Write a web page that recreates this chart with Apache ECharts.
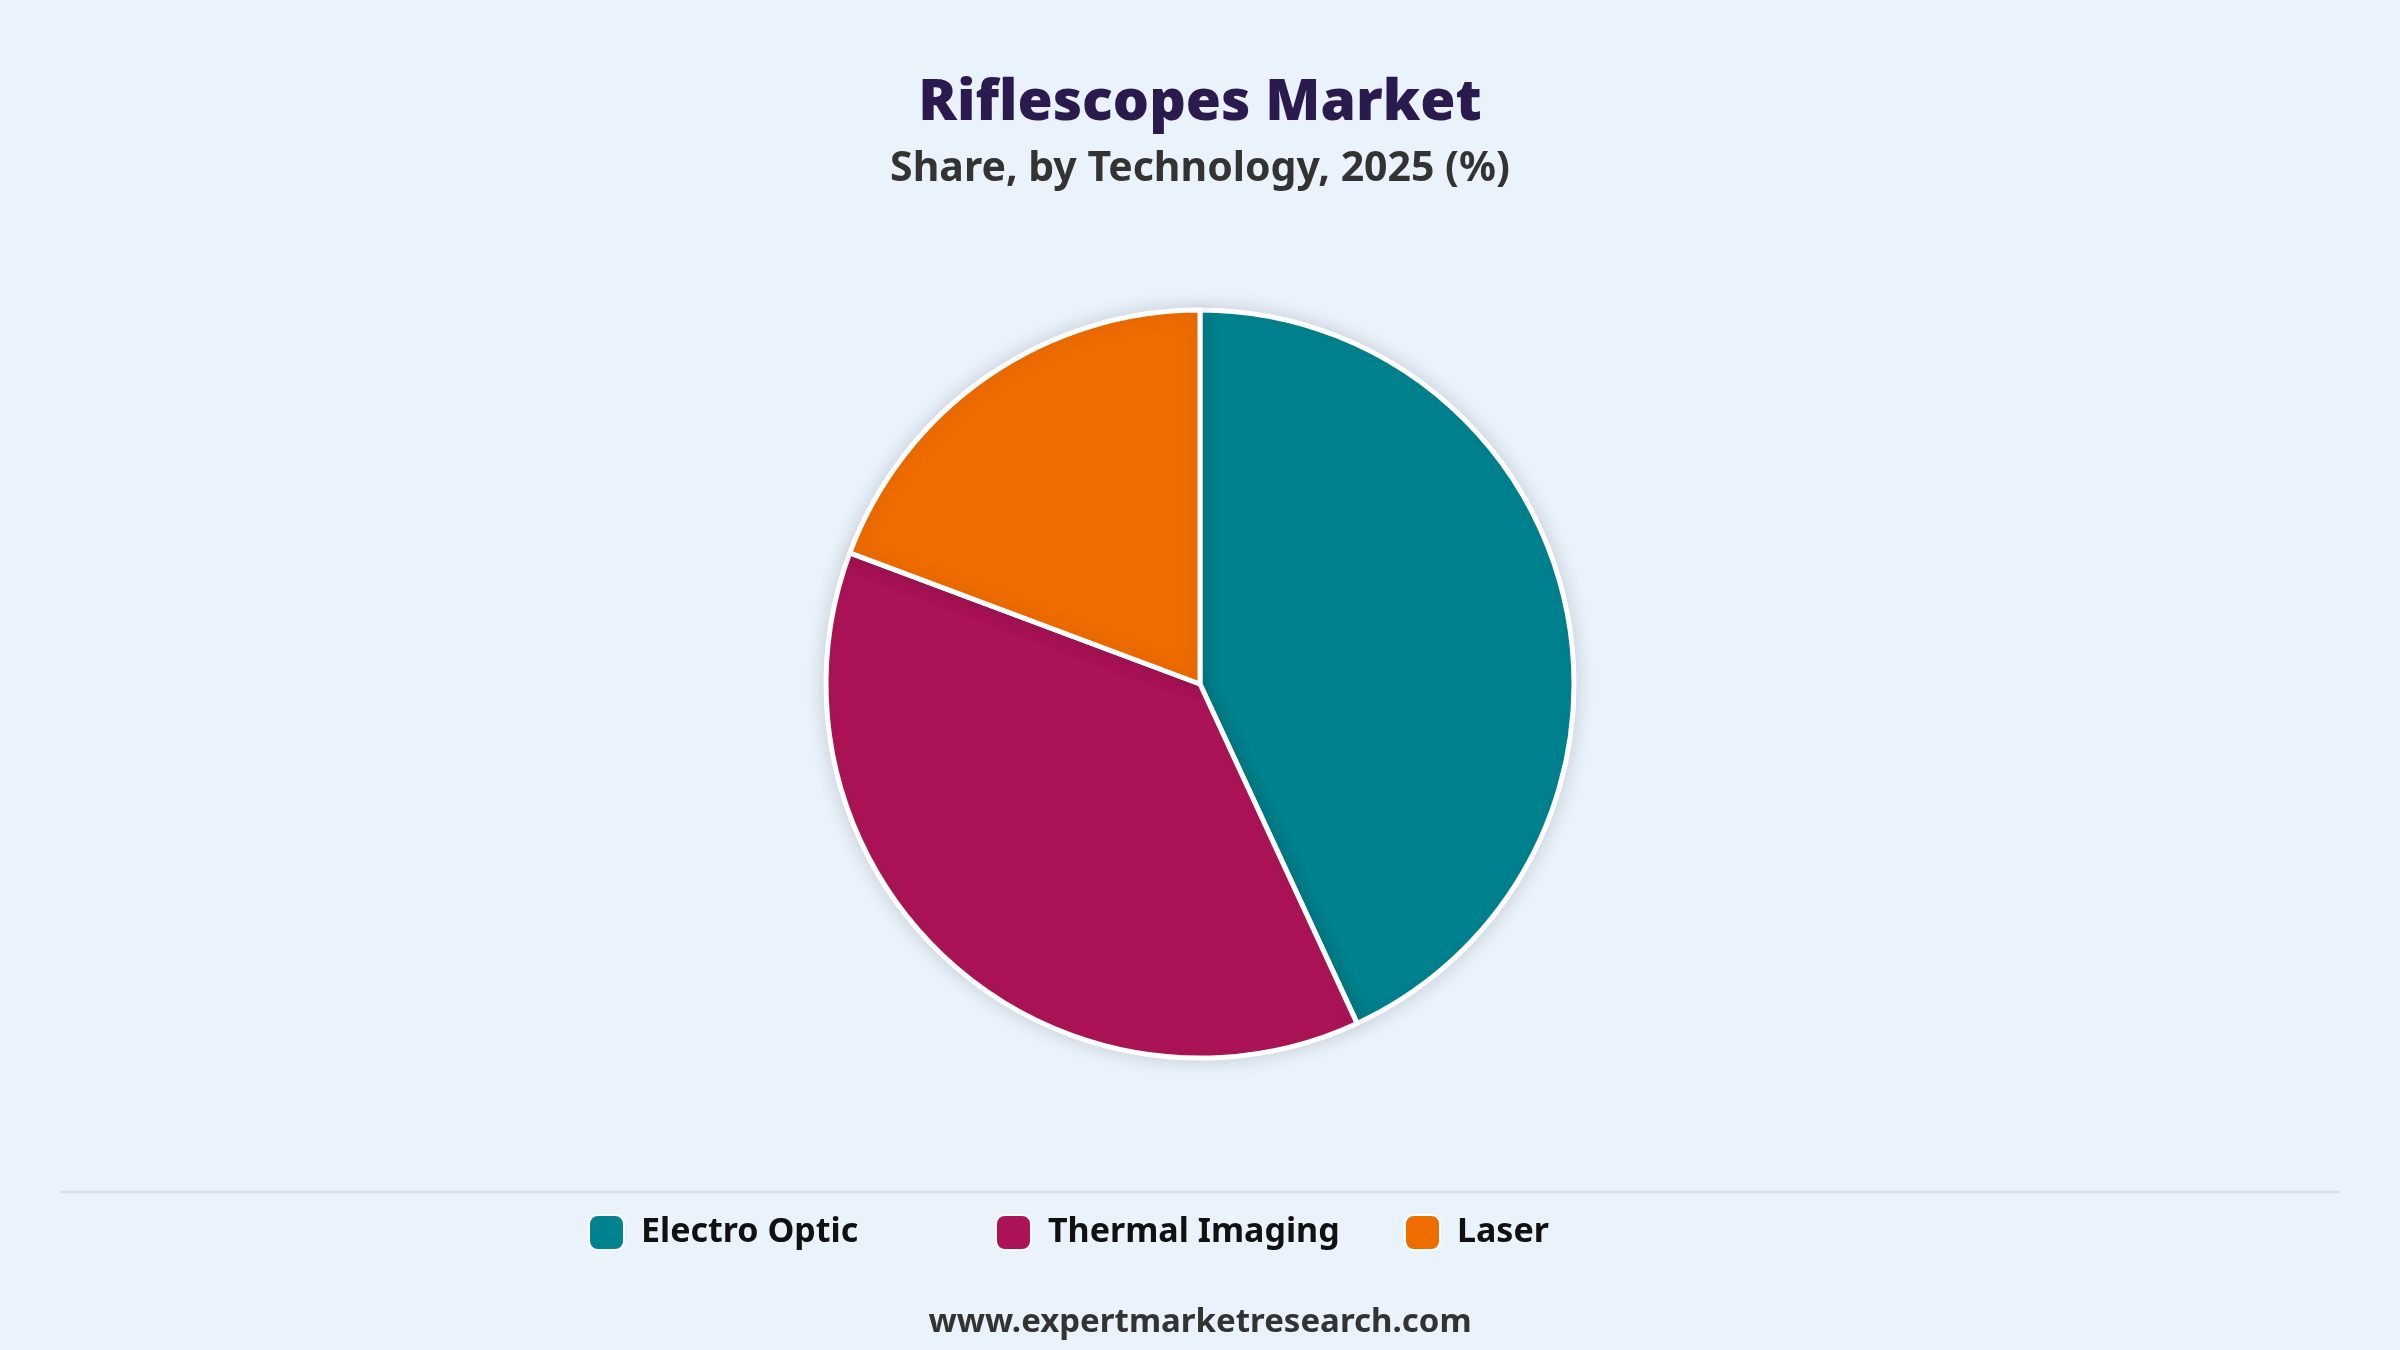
<!DOCTYPE html>
<html>
<head>
<meta charset="utf-8">
<title>Riflescopes Market</title>
<script src="https://cdn.jsdelivr.net/npm/echarts@6/dist/echarts.min.js"></script>
<style>
  html, body { margin: 0; padding: 0; background: #eaf2fc; }
  #chart { width: 2400px; height: 1350px; }
</style>
</head>
<body>
<div id="chart"></div>
<script>
// data
var categories = ['Electro Optic', 'Thermal Imaging', 'Laser'];
var shares = [43.1, 37.6, 19.3];
var colors = ['#00838f', '#ad1457', '#ef6c00'];
// left edge of each legend item (the original spaces them evenly)
var legendLefts = [583, 990, 1399];

var chart = echarts.init(document.getElementById('chart'));

var pieData = categories.map(function (name, i) {
    return { name: name, value: shares[i], itemStyle: { color: colors[i] } };
});

// one legend per item so the spacing stays fixed
var legends = categories.map(function (name, i) {
    return {
        data: [name],
        left: legendLefts[i],
        top: 1209,
        icon: 'roundRect',
        itemWidth: 35,
        itemHeight: 35,
        selectedMode: false,
        textStyle: {
            fontFamily: 'Noto Sans',
            fontSize: 34,
            fontWeight: 'bold',
            color: '#111111',
            padding: [0, 0, 0, 12]
        }
    };
});

var option = {
    backgroundColor: '#eaf2fc',
    title: [
        {
            text: 'Riflescopes Market',
            left: 'center',
            top: 70,
            textStyle: { fontFamily: 'Noto Sans', fontSize: 57, fontWeight: 900, color: '#2b1a4e' }
        },
        {
            text: 'Share, by Technology, 2025 (%)',
            left: 'center',
            top: 144,
            textStyle: { fontFamily: 'Noto Sans', fontSize: 41, fontWeight: 'bold', color: '#333333' }
        },
        {
            text: 'www.expertmarketresearch.com',
            left: 'center',
            top: 1301,
            textStyle: { fontFamily: 'Noto Sans', fontSize: 33, fontWeight: 'bold', color: '#333333' }
        }
    ],
    legend: legends,
    graphic: [
        {
            type: 'line',
            shape: { x1: 61, y1: 1192, x2: 2339, y2: 1192 },
            style: { stroke: '#d9dde3', lineWidth: 3 }
        }
    ],
    series: [
        {
            type: 'pie',
            center: [1200, 684],
            radius: 374,
            startAngle: 90,
            clockwise: true,
            label: { show: false },
            labelLine: { show: false },
            emphasis: { scale: false },
            itemStyle: {
                borderColor: '#ffffff',
                borderWidth: 5,
                shadowBlur: 20,
                shadowColor: 'rgba(0, 0, 0, 0.14)'
            },
            data: pieData
        }
    ]
};

chart.setOption(option);
</script>
</body>
</html>
